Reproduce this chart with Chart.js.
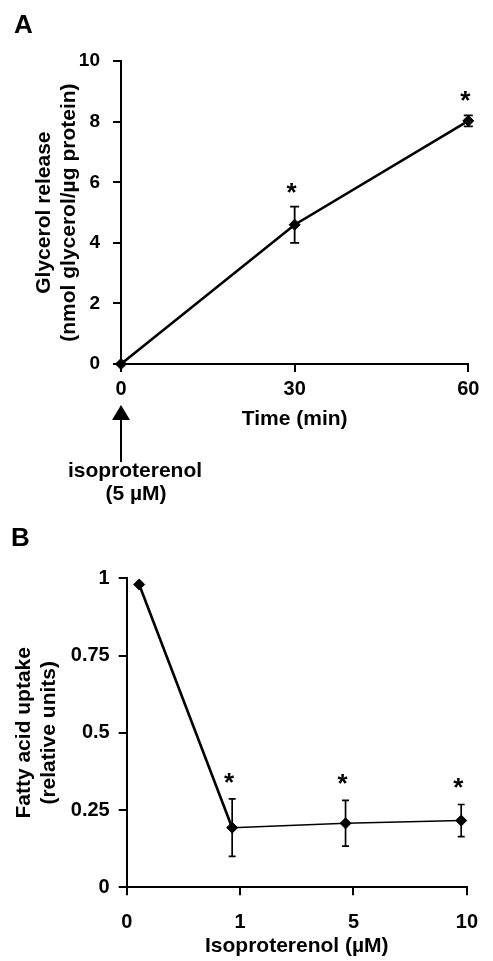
<!DOCTYPE html>
<html><head><meta charset="utf-8">
<script src="https://cdn.jsdelivr.net/npm/chart.js@4/dist/chart.umd.min.js"></script>
<style>
html,body{margin:0;padding:0;background:#fff;}
body{width:493px;height:961px;position:relative;overflow:hidden;}
canvas{position:absolute;left:0;}
#cA{top:0;} #cB{top:512px;}
</style></head><body>
<canvas id="cA" width="493" height="512"></canvas>
<canvas id="cB" width="493" height="449"></canvas>
<script>
// ---- Panel A data ----
const timeMin = [0, 30, 60];
const glycerolRelease = [0, 4.6, 8.03];
const glycerolError = [0, 0.6, 0.18];
const glycerolSignificant = [false, true, true];
const timeTicks = [0, 30, 60];
const glycerolTicks = [0, 2, 4, 6, 8, 10];

// ---- Panel B data ----
const isoLabels = ['0', '1', '5', '10'];
const isoX = [0.11, 0.93, 1.93, 2.95];
const fattyAcidUptake = [0.98, 0.193, 0.207, 0.216];
const fattyAcidError = [0, 0.093, 0.074, 0.052];
const fattyAcidSignificant = [false, true, true, true];
const uptakeTickValues = [0, 0.25, 0.5, 0.75, 1];
const uptakeTickLabels = ['0', '0.25', '0.5', '0.75', '1'];

const FONT = '"Liberation Sans", Arial, Helvetica, sans-serif';
Chart.defaults.font.family = FONT;
Chart.defaults.color = '#000';

const errorBarPlugin = {
  id: 'errorBars',
  afterDatasetsDraw(chart, args, opts) {
    const ctx = chart.ctx;
    const xs = chart.scales.x, ys = chart.scales.y;
    const data = chart.data.datasets[0].data;
    ctx.save();
    ctx.strokeStyle = '#000';
    ctx.lineWidth = opts.lineWidth;
    data.forEach((p, i) => {
      const e = opts.errors[i];
      if (!e) return;
      const x = xs.getPixelForValue(p.x);
      const yt = ys.getPixelForValue(p.y + e);
      const yb = ys.getPixelForValue(p.y - e);
      ctx.beginPath();
      ctx.moveTo(x, yt); ctx.lineTo(x, yb);
      ctx.moveTo(x - opts.cap, yt); ctx.lineTo(x + opts.cap, yt);
      ctx.moveTo(x - opts.cap, yb); ctx.lineTo(x + opts.cap, yb);
      ctx.stroke();
    });
    ctx.fillStyle = '#000';
    ctx.font = 'bold 26px ' + FONT;
    ctx.textAlign = 'center';
    ctx.textBaseline = 'alphabetic';
    data.forEach((p, i) => {
      if (!opts.sig[i]) return;
      const x = xs.getPixelForValue(p.x);
      const yt = ys.getPixelForValue(p.y + opts.errors[i]);
      ctx.fillText('*', x - 3, yt - opts.starGap);
    });
    ctx.restore();
  }
};

const arrowPlugin = {
  id: 'stimArrow',
  afterDraw(chart, args, opts) {
    if (!opts.show) return;
    const ctx = chart.ctx;
    const x0 = chart.scales.x.getPixelForValue(timeMin[0]);
    const base = chart.chartArea.bottom;
    ctx.save();
    ctx.fillStyle = '#000';
    ctx.strokeStyle = '#000';
    ctx.lineWidth = 2;
    ctx.beginPath();
    ctx.moveTo(x0, base + 41);
    ctx.lineTo(x0 + 9, base + 56);
    ctx.lineTo(x0 - 9, base + 56);
    ctx.closePath();
    ctx.fill();
    ctx.beginPath();
    ctx.moveTo(x0, base + 55);
    ctx.lineTo(x0, base + 98);
    ctx.stroke();
    ctx.font = 'bold 21px ' + FONT;
    ctx.textAlign = 'center';
    ctx.textBaseline = 'middle';
    ctx.fillText('isoproterenol', x0 + 14, base + 107);
    ctx.fillText('(5 \u00B5M)', x0 + 15, base + 130);
    ctx.restore();
  }
};

function axisCommon(extra) {
  return Object.assign({
    border: {display: true, color: '#000', width: 2},
    grid: {display: true, drawOnChartArea: false, drawTicks: true, tickLength: 8, color: '#000', lineWidth: 2}
  }, extra);
}

// ---- Chart A ----
new Chart(document.getElementById('cA'), {
  type: 'line',
  data: {
    datasets: [{
      data: timeMin.map((t, i) => ({x: t, y: glycerolRelease[i]})),
      borderColor: '#000',
      borderWidth: 2.6,
      pointStyle: 'rectRot',
      pointRadius: 5.5,
      pointBackgroundColor: '#000',
      pointBorderColor: '#000',
      pointBorderWidth: 1,
      tension: 0,
      clip: false
    }]
  },
  options: {
    responsive: false,
    animation: false,
    events: [],
    layout: {padding: {left: 14, right: 24.7, top: 0, bottom: 80.4}},
    plugins: {
      legend: {display: false},
      tooltip: {enabled: false},
      title: {display: true, text: 'A', align: 'start', color: '#000',
        font: {size: 26, weight: 'bold', lineHeight: 1.2}, padding: {top: 10, bottom: 20}},
      errorBars: {errors: glycerolError, sig: glycerolSignificant, cap: 4.5, lineWidth: 1.8, starGap: 6},
      stimArrow: {show: true}
    },
    scales: {
      x: axisCommon({
        type: 'linear', min: 0, max: 60,
        afterBuildTicks: s => { s.ticks = timeTicks.map(v => ({value: v})); },
        afterFit: s => { s.height = 67.6; },
        ticks: {padding: 5, color: '#000', font: {size: 20, weight: 'bold', lineHeight: 1.2}, maxRotation: 0},
        title: {display: true, text: 'Time (min)', color: '#000',
          font: {size: 21, weight: 'bold', lineHeight: 1.2}, padding: {top: 0, bottom: 0}}
      }),
      y: axisCommon({
        type: 'linear', min: 0, max: 10,
        afterBuildTicks: s => { s.ticks = glycerolTicks.map(v => ({value: v})); },
        afterFit: s => { s.width = 107; },
        ticks: {padding: 13, color: '#000', font: {size: 19, weight: 'bold', lineHeight: 1.2}},
        title: {display: true, text: ['Glycerol release', '(nmol glycerol/\u00B5g protein)'], color: '#000',
          font: {size: 21, weight: 'bold', lineHeight: 1.19}, padding: {top: 17.5, bottom: 0}}
      })
    }
  },
  plugins: [errorBarPlugin, arrowPlugin]
});

// ---- Chart B ----
new Chart(document.getElementById('cB'), {
  type: 'line',
  data: {
    datasets: [{
      data: isoX.map((x, i) => ({x: x, y: fattyAcidUptake[i]})),
      borderColor: '#000',
      borderWidth: 1.5,
      segment: {borderWidth: c => c.p0DataIndex === 0 ? 2.6 : 1.5},
      pointStyle: 'rectRot',
      pointRadius: 5.5,
      pointBackgroundColor: '#000',
      pointBorderColor: '#000',
      pointBorderWidth: 1,
      tension: 0,
      clip: false
    }]
  },
  options: {
    responsive: false,
    animation: false,
    events: [],
    layout: {padding: {left: 11, right: 17, top: 0, bottom: 2.4}},
    plugins: {
      legend: {display: false},
      tooltip: {enabled: false},
      title: {display: true, text: 'B', align: 'start', color: '#000',
        font: {size: 26, weight: 'bold', lineHeight: 1.2}, padding: {top: 11.4, bottom: 23.7}},
      errorBars: {errors: fattyAcidError, sig: fattyAcidSignificant, cap: 3.5, lineWidth: 1.7, starGap: 8},
      stimArrow: {show: false}
    },
    scales: {
      x: axisCommon({
        type: 'linear', min: 0, max: 3,
        afterBuildTicks: s => { s.ticks = isoLabels.map((l, i) => ({value: i})); },
        afterFit: s => { s.height = 71.3; },
        ticks: {padding: 15, color: '#000', font: {size: 20, weight: 'bold', lineHeight: 1.2}, maxRotation: 0,
          callback: (v, i) => isoLabels[i]},
        title: {display: true, text: 'Isoproterenol (\u00B5M)', color: '#000',
          font: {size: 21, weight: 'bold', lineHeight: 1.2}, padding: {top: 0, bottom: 0}}
      }),
      y: axisCommon({
        type: 'linear', min: 0, max: 1,
        afterBuildTicks: s => { s.ticks = uptakeTickValues.map(v => ({value: v})); },
        afterFit: s => { s.width = 115.7; },
        ticks: {padding: 9, color: '#000', font: {size: 20, weight: 'bold', lineHeight: 1.2},
          callback: (v, i) => uptakeTickLabels[i]},
        title: {display: true, text: ['Fatty acid uptake', '(relative units)'], color: '#000',
          font: {size: 21, weight: 'bold', lineHeight: 1.19}, padding: {top: 1, bottom: 0}}
      })
    }
  },
  plugins: [errorBarPlugin, arrowPlugin]
});
</script>
</body></html>
